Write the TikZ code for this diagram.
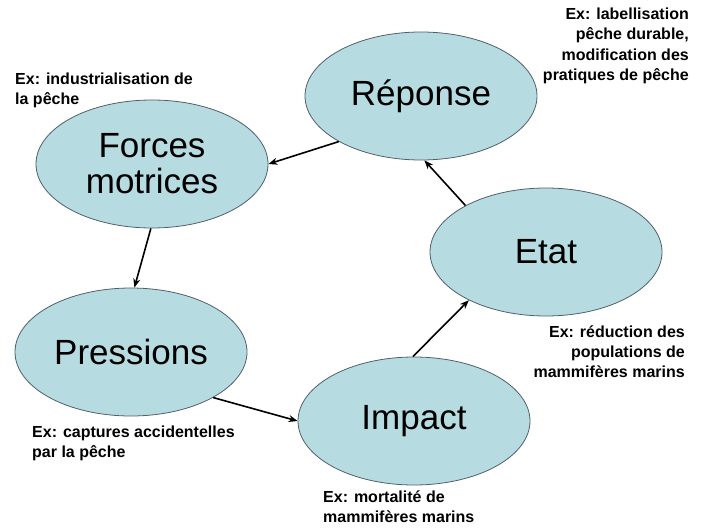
\documentclass[tikz,border=0pt]{standalone}
\usepackage{fontspec}
\setmainfont{Liberation Sans}
\usetikzlibrary{shapes.geometric,arrows.meta}
\definecolor{bulle}{RGB}{182,220,225}
\definecolor{bord}{RGB}{80,95,105}
\begin{document}
\begin{tikzpicture}[x=1pt,y=-1pt]
            \useasboundingbox (0,0) rectangle (708,527);
            \begin{scope}[every node/.style={ellipse, draw=bord, fill=bulle, line width=0.8pt, minimum width=232pt, minimum height=128pt, inner sep=0pt, align=center, font=\fontsize{35}{36}\selectfont}]

                \node (R) at (421,96) {Réponse};
                \node (F) at (152,164) {Forces\\motrices};
                \node (P) at (131,352) {Pressions};
                \node (I) at (414,421) {Impact};
                \node (E) at (546,252) {Etat};

            \end{scope}
            \path[-{Stealth[length=9pt,width=7pt]}, line width=1.6pt] (R.209) edge (F.0);
            \path[-{Stealth[length=9pt,width=7pt]}, line width=1.6pt] (F.269) edge (P.87);
            \path[-{Stealth[length=9pt,width=7pt]}, line width=1.6pt] (P.331) edge (I.180);
            \path[-{Stealth[length=9pt,width=7pt]}, line width=1.6pt] (I.91) edge (E.212);
            \path[-{Stealth[length=9pt,width=7pt]}, line width=1.6pt] (E.150) edge (R.273);
            \begin{scope}[every node/.style={font=\bfseries\fontsize{16}{20}\selectfont, inner sep=0pt}]

                \node[anchor=base west, align=left] (tF) at (15,104) {Ex: industrialisation de\\la pêche};
                \node[anchor=base east, align=right] (tR) at (689,80) {Ex: labellisation\\pêche durable,\\modification des\\pratiques de pêche};
                \node[anchor=base east, align=right] (tE) at (685,377) {Ex: réduction des\\populations de\\mammifères marins};
                \node[anchor=base west, align=left] (tP) at (32,457) {Ex: captures accidentelles\\par la pêche};
                \node[anchor=base west, align=left] (tI) at (323,522) {Ex: mortalité de\\mammifères marins};

            \end{scope}
        \end{tikzpicture}
\end{document}
